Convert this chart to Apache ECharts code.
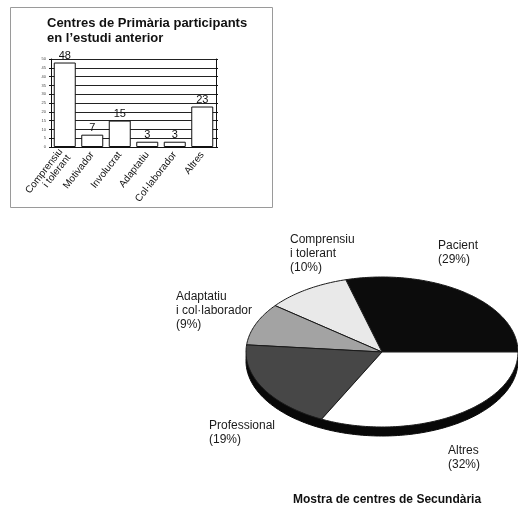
<!DOCTYPE html>
<html>
<head>
<meta charset="utf-8">
<script src="https://cdn.jsdelivr.net/npm/echarts@6/dist/echarts.min.js"></script>
<style>
  html, body { margin: 0; padding: 0; background: #fff; }
  #chart { width: 518px; height: 509px; }
</style>
</head>
<body>
<div id="chart"></div>
<script>
// bar chart data (Primària)
const barCategories = ['Comprensiu\ni tolerant', 'Motivador', 'Involucrat', 'Adaptatiu', 'Col·laborador', 'Altres'];
const barValues = [48, 7, 15, 3, 3, 23];

// pie data (Secundària), counter-clockwise from 3 o'clock
const pieNames = ['Pacient', 'Comprensiu\ni tolerant', 'Adaptatiu\ni col·laborador', 'Professional', 'Altres'];
const pieValues = [29, 10, 9, 19, 32];
const pieColors = ['#0c0c0c', '#e9e9e9', '#a3a3a3', '#474747', '#ffffff'];

// ellipse geometry for the tilted pie
const PIE = { cx: 382, cy: 352, rx: 136, ry: 75, depth: 9 };
// label top-left corners, one per slice
const labelPos = [[438, 239], [290, 233], [176, 290], [209, 419], [448, 444]];

const total = pieValues.reduce((a, b) => a + b, 0);
const startAngles = [];
let acc = 0;
pieValues.forEach(v => { startAngles.push(acc / total * 2 * Math.PI); acc += v; });

function arcPts(cx, cy, a0, a1) {
  const pts = [];
  const n = Math.max(2, Math.ceil((a1 - a0) / 0.02));
  for (let i = 0; i <= n; i++) {
    const a = a0 + (a1 - a0) * i / n;
    pts.push([cx + PIE.rx * Math.cos(a), cy - PIE.ry * Math.sin(a)]);
  }
  return pts;
}

const chart = echarts.init(document.getElementById('chart'), null, { renderer: 'canvas' });

const option = {
  backgroundColor: '#ffffff',
  animation: false,
  textStyle: { fontFamily: 'Liberation Sans, Arial, sans-serif' },
  title: [
    {
      text: 'Centres de Primària participants\nen l\u2019estudi anterior',
      left: 42, top: 11,
      textStyle: { fontSize: 13, fontWeight: 'bold', color: '#111', lineHeight: 15 }
    },
    {
      text: 'Mostra de centres de Secundària',
      left: 288, top: 489,
      textStyle: { fontSize: 12, fontWeight: 'bold', color: '#111' }
    }
  ],
  graphic: [
    {
      type: 'rect', z: -1,
      shape: { x: 10.5, y: 7.5, width: 262, height: 200 },
      style: { fill: 'none', stroke: '#9a9a9a', lineWidth: 1 }
    }
  ],
  grid: { left: 51, top: 59, width: 165, height: 88 },
  xAxis: {
    type: 'category',
    data: barCategories,
    axisLine: { lineStyle: { color: '#111' } },
    axisTick: { show: false },
    axisLabel: {
      rotate: 52, fontSize: 10, color: '#111', interval: 0, margin: 6, lineHeight: 10
    }
  },
  yAxis: [
    {
      type: 'value', min: 0, max: 50, interval: 5,
      axisLine: { show: true, lineStyle: { color: '#111' } },
      axisTick: { show: true, length: 2, lineStyle: { color: '#111' } },
      axisLabel: { fontSize: 4, color: '#444', margin: 5 },
      splitLine: { lineStyle: { color: '#222', width: 1 } }
    },
    {
      type: 'value', min: 0, max: 50, interval: 5, position: 'right',
      axisLine: { show: true, lineStyle: { color: '#111' } },
      axisTick: { show: true, length: 2, lineStyle: { color: '#111' } },
      axisLabel: { show: false },
      splitLine: { show: false }
    }
  ],
  series: [
    {
      type: 'bar',
      data: barValues,
      barWidth: '80%',
      itemStyle: { color: '#fff', borderColor: '#111', borderWidth: 1 },
      label: { show: true, position: 'top', distance: 1, fontSize: 11, color: '#111' }
    },
    {
      // side wall of the tilted pie
      type: 'custom',
      coordinateSystem: 'none',
      silent: true,
      data: [0],
      renderItem: function () {
        return {
          type: 'polygon',
          shape: { points: arcPts(PIE.cx, PIE.cy + PIE.depth, 0, 2 * Math.PI) },
          style: { fill: '#080808', stroke: '#080808' }
        };
      }
    },
    {
      // top faces + labels
      type: 'custom',
      coordinateSystem: 'none',
      silent: true,
      data: pieValues,
      renderItem: function (params, api) {
        const i = params.dataIndex;
        const a0 = startAngles[i];
        const a1 = a0 + api.value(0) / total * 2 * Math.PI;
        const pts = [[PIE.cx, PIE.cy]].concat(arcPts(PIE.cx, PIE.cy, a0, a1));
        return {
          type: 'group',
          children: [
            {
              type: 'polygon',
              shape: { points: pts },
              style: { fill: pieColors[i], stroke: '#1a1a1a', lineWidth: 1 }
            },
            {
              type: 'text',
              x: labelPos[i][0], y: labelPos[i][1],
              style: {
                text: pieNames[i] + '\n(' + api.value(0) + '%)',
                fontSize: 12, lineHeight: 14, fill: '#1a1a1a',
                fontFamily: 'Liberation Sans, Arial, sans-serif'
              }
            }
          ]
        };
      }
    }
  ]
};

chart.setOption(option);
</script>
</body>
</html>
